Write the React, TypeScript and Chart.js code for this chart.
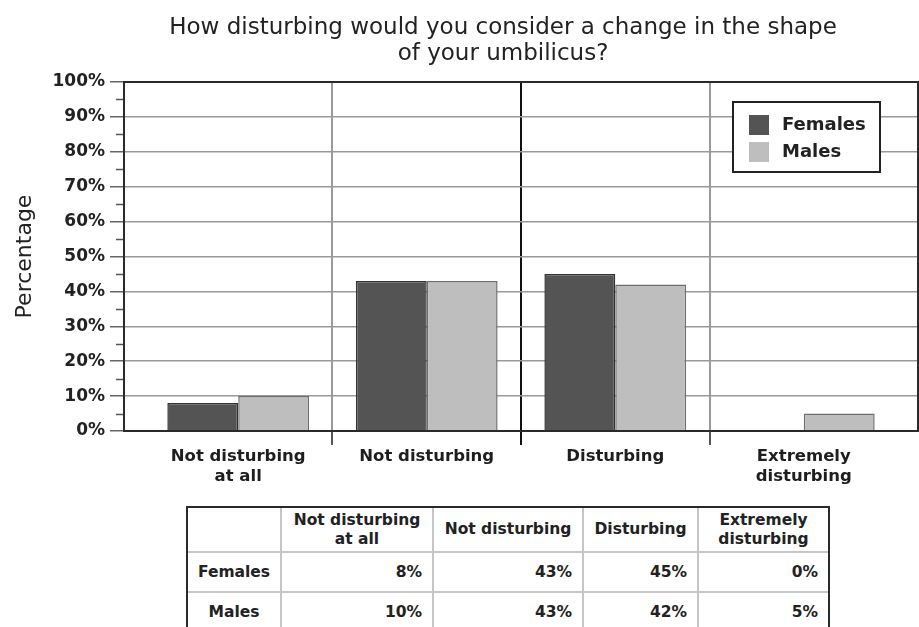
import { useEffect, useRef } from 'react';
import { Chart, registerables } from 'chart.js';

Chart.register(...registerables);

// Survey answers (category axis + table header)
const answerLabels: string[][] = [
  ['Not disturbing', 'at all'],
  ['Not disturbing'],
  ['Disturbing'],
  ['Extremely', 'disturbing'],
];
const seriesNames = ['Females', 'Males'];
const femalesPct = [8, 43, 45, 0];
const malesPct = [10, 43, 42, 5];
const percentTicks = [0, 10, 20, 30, 40, 50, 60, 70, 80, 90, 100];
const titleLines = ['How disturbing would you consider a change in the shape', 'of your umbilicus?'];
const yAxisTitle = 'Percentage';

const seriesFill = ['#545454', '#bebebe'];
const seriesBorder = ['#333333', '#6e6e6e'];
const FONT = '"DejaVu Sans", Verdana, sans-serif';

// Heading drawn above the plot
const headingPlugin = {
  id: 'heading',
  afterDraw(chart: any) {
    const { ctx } = chart;
    ctx.save();
    ctx.fillStyle = '#222';
    ctx.font = `23px ${FONT}`;
    ctx.textAlign = 'center';
    ctx.textBaseline = 'middle';
    titleLines.forEach((line, i) => ctx.fillText(line, 503, 28 + i * 26));
    ctx.restore();
  },
};

// Short minor ticks halfway between the percentage ticks, plus a frame around the plot
const framePlugin = {
  id: 'frame',
  afterDatasetsDraw(chart: any) {
    const { ctx, chartArea: a } = chart;
    const y = chart.scales.y;
    ctx.save();
    ctx.strokeStyle = '#555';
    ctx.lineWidth = 1.5;
    for (let i = 1; i < percentTicks.length; i++) {
      const mid = (percentTicks[i - 1] + percentTicks[i]) / 2;
      const py = Math.round(y.getPixelForValue(mid)) + 0.5;
      ctx.beginPath();
      ctx.moveTo(a.left - 8, py);
      ctx.lineTo(a.left, py);
      ctx.stroke();
    }
    ctx.strokeStyle = '#2a2a2a';
    ctx.lineWidth = 2;
    ctx.strokeRect(a.left, a.top, a.right - a.left, a.bottom - a.top);
    ctx.restore();
  },
};

// Boxed legend inside the upper right of the plot
const boxLegendPlugin = {
  id: 'boxLegend',
  afterDraw(chart: any) {
    const { ctx, chartArea: a } = chart;
    const w = 147;
    const h = 70;
    const left = a.right - 38 - w;
    const top = a.top + 20;
    ctx.save();
    ctx.fillStyle = '#fff';
    ctx.fillRect(left, top, w, h);
    ctx.strokeStyle = '#222';
    ctx.lineWidth = 2;
    ctx.strokeRect(left, top, w, h);
    ctx.font = `bold 18px ${FONT}`;
    ctx.textBaseline = 'middle';
    ctx.textAlign = 'left';
    chart.data.datasets.forEach((ds: any, i: number) => {
      const cy = top + 23 + i * 27;
      ctx.fillStyle = ds.backgroundColor;
      ctx.fillRect(left + 16, cy - 10, 20, 20);
      ctx.fillStyle = '#222';
      ctx.fillText(ds.label, left + 49, cy);
    });
    ctx.restore();
  },
};

function BarChart() {
  const ref = useRef<HTMLCanvasElement>(null);
  useEffect(() => {
    if (!ref.current) return;
    const series = [femalesPct, malesPct];
    const chart = new Chart(ref.current, {
      type: 'bar',
      data: {
        datasets: series.map((vals, s) => ({
          label: seriesNames[s],
          data: vals.map((v, i) => ({ x: i, y: v })),
          backgroundColor: seriesFill[s],
          borderColor: seriesBorder[s],
          borderWidth: 1.5,
          categoryPercentage: 0.752,
          barPercentage: 1,
        })),
      },
      options: {
        responsive: false,
        animation: false,
        layout: { padding: { top: 82, left: 0, right: 1, bottom: 0 } },
        plugins: {
          legend: { display: false },
          title: { display: false },
          tooltip: { enabled: false },
        },
        scales: {
          x: {
            type: 'linear',
            offset: false,
            min: -0.5 - 20 / 189,
            max: answerLabels.length - 0.5 + 20 / 189,
            afterBuildTicks: (s: any) => {
              s.ticks = answerLabels.map((_, i) => ({ value: i }));
            },
            afterFit: (s: any) => {
              s.height = 69;
            },
            ticks: {
              autoSkip: false,
              maxRotation: 0,
              minRotation: 0,
              padding: 2,
              color: '#1e1e1e',
              font: { family: FONT, size: 16.5, weight: 'bold', lineHeight: 20 / 16.5 },
              callback: (v: any) => answerLabels[v] ?? '',
            },
            grid: {
              offset: true,
              tickLength: 14,
              lineWidth: 2,
              color: (c: any) => (c.index === 2 ? '#111' : c.index === 1 || c.index === 3 ? '#9a9a9a' : 'rgba(0,0,0,0)'),
              tickColor: (c: any) => (c.index === 2 ? '#111' : c.index === 1 || c.index === 3 ? '#555' : 'rgba(0,0,0,0)'),
            },
            border: { display: true, color: '#2a2a2a', width: 2 },
          },
          y: {
            min: 0,
            max: 100,
            afterBuildTicks: (s: any) => {
              s.ticks = percentTicks.map((v) => ({ value: v }));
            },
            afterFit: (s: any) => {
              s.width = 124;
            },
            ticks: {
              padding: 5,
              color: '#222',
              font: { family: FONT, size: 17, weight: 'bold' },
              callback: (v: any) => `${v}%`,
            },
            grid: {
              tickLength: 14,
              lineWidth: 1.5,
              color: '#9a9a9a',
              tickColor: '#666',
            },
            border: { display: true, color: '#2a2a2a', width: 2 },
            title: {
              display: true,
              text: yAxisTitle,
              color: '#222',
              padding: { top: 12, bottom: 0 },
              font: { family: FONT, size: 22, weight: 'normal', lineHeight: 1.2 },
            },
          },
        },
      },
      plugins: [headingPlugin, framePlugin, boxLegendPlugin],
    } as any);
    return () => chart.destroy();
  }, []);
  return (
    <canvas
      ref={ref}
      width={919}
      height={500}
      style={{ position: 'absolute', left: 0, top: 0, width: 919, height: 500 }}
    />
  );
}

const colWidths = [93, 152, 150, 115, 130];
const rowHeights = [44, 40, 38];

function DataTable() {
  const rows = [femalesPct, malesPct];
  const cellBase: any = {
    fontFamily: FONT,
    fontWeight: 'bold',
    fontSize: 15.5,
    color: '#222',
    padding: 0,
    boxSizing: 'border-box',
  };
  const inner = '2px solid #c6c6c6';
  return (
    <div
      style={{
        position: 'absolute',
        left: 186,
        top: 506,
        border: '2px solid #2a2a2a',
        background: '#fff',
      }}
    >
      <table style={{ borderCollapse: 'collapse', borderSpacing: 0, tableLayout: 'fixed' }}>
        <tbody>
          <tr style={{ height: rowHeights[0] }}>
            <td style={{ ...cellBase, width: colWidths[0], borderRight: inner, borderBottom: inner }} />
            {answerLabels.map((lab, i) => (
              <td
                key={i}
                style={{
                  ...cellBase,
                  width: colWidths[i + 1],
                  textAlign: 'center',
                  lineHeight: '19px',
                  borderRight: i < answerLabels.length - 1 ? inner : 'none',
                  borderBottom: inner,
                }}
              >
                {lab.map((part, k) => (
                  <div key={k}>{part}</div>
                ))}
              </td>
            ))}
          </tr>
          {rows.map((vals, r) => (
            <tr key={r} style={{ height: rowHeights[r + 1] }}>
              <td
                style={{
                  ...cellBase,
                  textAlign: 'center',
                  borderRight: inner,
                  borderBottom: r < rows.length - 1 ? inner : 'none',
                }}
              >
                {seriesNames[r]}
              </td>
              {vals.map((v, i) => (
                <td
                  key={i}
                  style={{
                    ...cellBase,
                    textAlign: 'right',
                    paddingRight: 10,
                    borderRight: i < vals.length - 1 ? inner : 'none',
                    borderBottom: r < rows.length - 1 ? inner : 'none',
                  }}
                >
                  {`${v}%`}
                </td>
              ))}
            </tr>
          ))}
        </tbody>
      </table>
    </div>
  );
}

export default function App() {
  return (
    <div
      style={{
        position: 'absolute',
        left: 0,
        top: 0,
        width: 919,
        height: 627,
        overflow: 'hidden',
        background: '#fff',
      }}
    >
      <BarChart />
      <DataTable />
    </div>
  );
}
